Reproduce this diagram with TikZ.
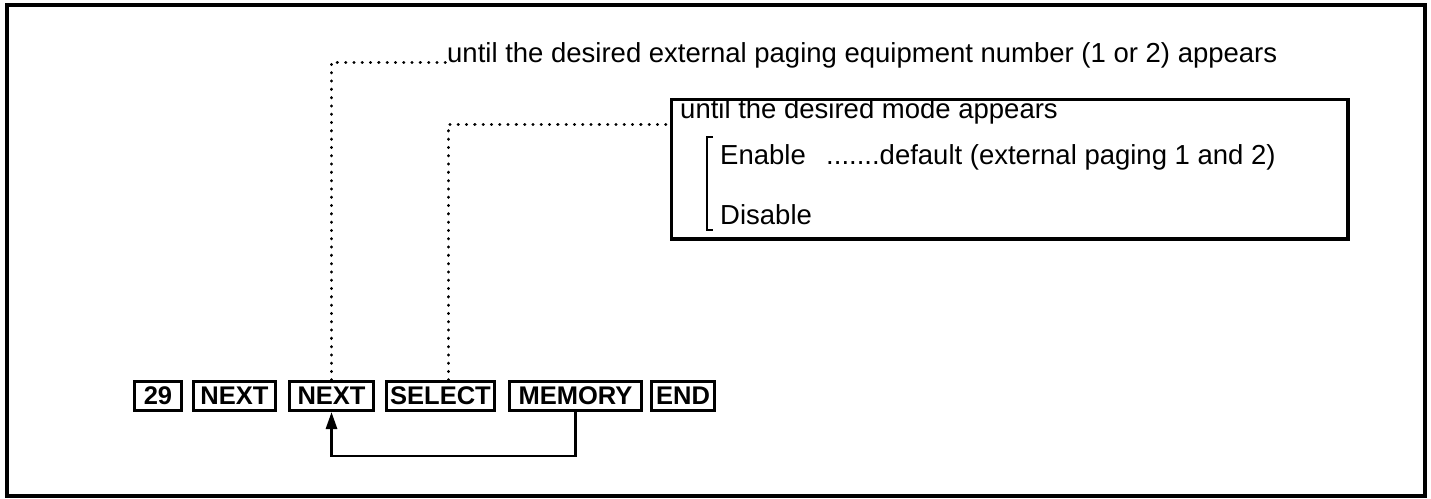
\documentclass[tikz,border=0pt]{standalone}
\usepackage{fontspec}
\setmainfont{Liberation Sans}
\usepackage{tikz}
\usetikzlibrary{
    arrows.meta,
    positioning,
    calc
}
\tikzset{
  key/.style    = {draw, line width=2.8pt, minimum width=#1,
                   minimum height=29.2pt, inner xsep=2pt, inner ysep=0pt,
                   font=\fontsize{25.5}{25.5}\selectfont\bfseries},
  note/.style   = {inner sep=0pt, anchor=base west,
                   font=\fontsize{27.5}{27.5}\selectfont},
  leader/.style = {line width=3pt, line cap=round,
                   dash pattern=on 0.3pt off 8pt},
  arr/.style    = {-{Triangle[length=17pt,width=11pt]}, line width=2.8pt}
}

\begin{document}
\begin{tikzpicture}[x=1pt, y=-1pt,
    frame/.style={draw, line width=3.4pt, inner sep=0pt}
  ]
    \useasboundingbox (0,0) rectangle (1431,498);
    \draw[line width=3.4pt] (7,5) rectangle (1425,496);

    \node[key=47.2](k29) at (158,396)   {29};
    \node[key=82.2](nx1) at (234.5,396) {NEXT};
    \node[key=84.2](nx2) at (331.5,396) {NEXT};
    \node[key=108.2](sel) at (440.5,396) {SELECT};
    \node[key=132.2](mem) at (575.5,396) {MEMORY};
    \node[key=63.2](fin) at (683,396)   {END};

    \node[note](numtxt) at (447,62) {until the desired external paging equipment number (1 or 2) appears};

    \node[frame, anchor=north west, minimum width=676.6, minimum height=139.6](modebox) at (669.7,97.7) {};
    \node[note](modetxt) at (680,118) {until the desired mode appears};
    \node[note](enable) at (720,164) {Enable};
    \node[note](dflt) at (826,164) {.......default (external paging 1 and 2)};
    \node[note](disable) at (720,224) {Disable};
    \draw[line width=2.8pt] (713,137) -- (707,137) -- (707,230) -- (713,230);

    \coordinate (selend) at (666,124);
    \draw[leader](nx2.north) |- (numtxt.base west);
    \draw[leader]([xshift=8pt]sel.north) |- (selend);
    \draw[arr](mem.south) -- ++(0,44) -| (nx2.south);
  \end{tikzpicture}
\end{document}
